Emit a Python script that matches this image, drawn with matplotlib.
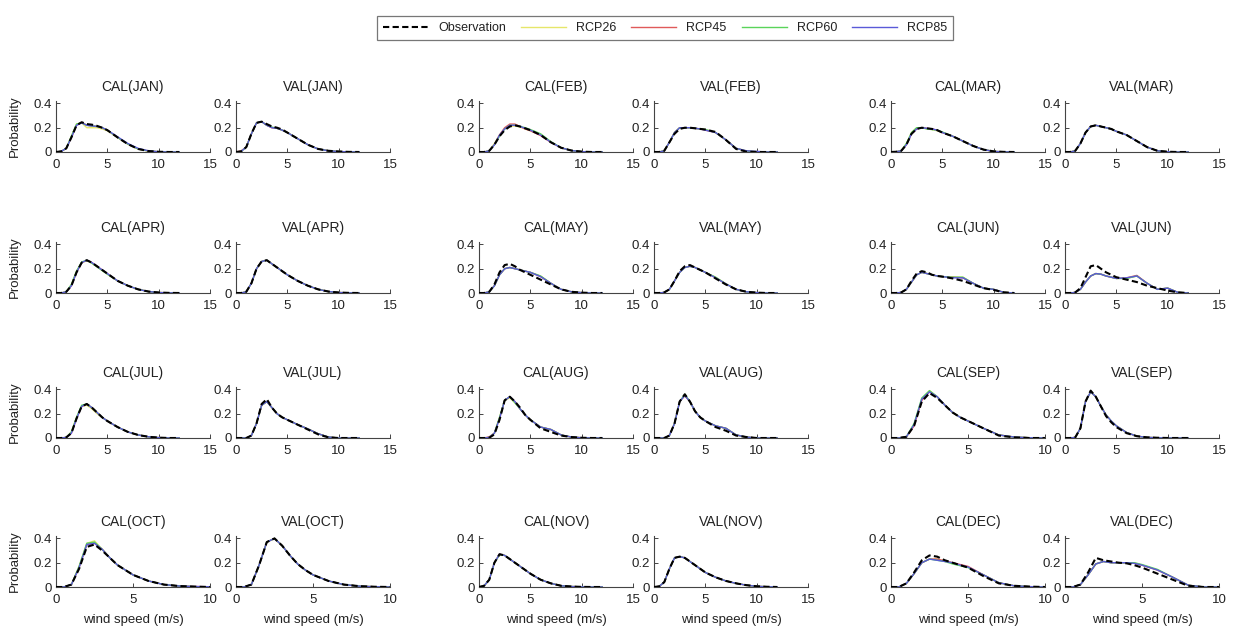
import matplotlib
matplotlib.use("Agg")
import matplotlib.pyplot as plt

plt.rcParams['font.family'] = ['Liberation Sans', 'DejaVu Sans']

months = ["JAN", "FEB", "MAR", "APR", "MAY", "JUN",
          "JUL", "AUG", "SEP", "OCT", "NOV", "DEC"]

# wind speed grid (m/s) the curves were read at
speed = [0, 0.5, 1, 1.5, 2, 2.5, 3, 3.5, 4, 4.5, 5, 6, 7, 8, 9, 10, 11, 12]

# x axis upper limit per panel
xmax_cal = [15, 15, 15, 15, 15, 15, 15, 15, 10, 10, 15, 10]
xmax_val = [15, 15, 15, 15, 15, 15, 15, 15, 15, 10, 15, 10]

cal_obs = {
    "JAN": [0, .005, .03, .12, .22, .245, .23, .225, .215, .2, .18, .12, .065, .025, .008, .002, 0, 0],
    "FEB": [0, 0, .01, .06, .13, .18, .21, .22, .21, .195, .18, .14, .08, .035, .012, .003, 0, 0],
    "MAR": [0, .002, .01, .06, .15, .19, .2, .195, .19, .18, .16, .13, .09, .05, .02, .005, .001, 0],
    "APR": [0, 0, .01, .06, .17, .25, .27, .25, .22, .19, .16, .1, .06, .03, .012, .004, .001, 0],
    "MAY": [0, 0, .01, .07, .17, .23, .24, .22, .19, .17, .15, .11, .07, .03, .01, .003, 0, 0],
    "JUN": [0, 0, .005, .03, .1, .16, .18, .17, .15, .14, .135, .12, .1, .07, .04, .025, .005, 0],
    "JUL": [0, 0, .005, .04, .16, .26, .28, .25, .21, .17, .14, .09, .05, .025, .01, .003, 0, 0],
    "AUG": [0, 0, .002, .03, .15, .31, .34, .3, .25, .19, .15, .08, .05, .02, .008, .002, 0, 0],
    "SEP": [0, 0, .01, .1, .3, .37, .33, .27, .21, .17, .14, .08, .02, .005, 0, 0, 0, 0],
    "OCT": [0, 0, .02, .15, .33, .35, .3, .24, .18, .14, .1, .05, .02, .008, .003, 0, 0, 0],
    "NOV": [0, .01, .06, .2, .27, .26, .23, .2, .17, .14, .11, .06, .03, .01, .004, .001, 0, 0],
    "DEC": [0, 0, .03, .12, .22, .26, .25, .22, .2, .18, .16, .09, .03, .01, .003, 0, 0, 0],
}
cal_rcp26 = {
    "JAN": [0, .005, .03, .13, .23, .24, .2, .2, .2, .19, .175, .12, .065, .025, .008, .002, 0, 0],
    "FEB": [0, 0, .01, .07, .14, .19, .21, .215, .205, .19, .175, .14, .08, .035, .012, .003, 0, 0],
    "MAR": [0, .002, .01, .07, .16, .2, .2, .19, .185, .175, .16, .13, .09, .05, .02, .005, .001, 0],
    "APR": [0, 0, .01, .07, .18, .25, .265, .245, .215, .185, .155, .1, .06, .03, .012, .004, .001, 0],
    "MAY": [0, 0, .01, .06, .15, .2, .21, .2, .19, .18, .17, .14, .08, .03, .01, .003, 0, 0],
    "JUN": [0, 0, .005, .03, .09, .15, .17, .16, .15, .14, .135, .13, .13, .08, .04, .03, .005, 0],
    "JUL": [0, 0, .005, .05, .17, .26, .27, .24, .2, .17, .14, .09, .05, .025, .01, .003, 0, 0],
    "AUG": [0, 0, .005, .04, .17, .31, .33, .29, .24, .19, .15, .09, .07, .025, .008, .002, 0, 0],
    "SEP": [0, 0, .01, .11, .32, .39, .34, .27, .21, .17, .14, .08, .025, .008, .002, 0, 0, 0],
    "OCT": [0, 0, .02, .17, .36, .38, .31, .24, .18, .14, .1, .05, .02, .008, .003, 0, 0, 0],
    "NOV": [0, .01, .06, .2, .265, .26, .23, .2, .17, .14, .11, .06, .03, .01, .004, .001, 0, 0],
    "DEC": [0, 0, .03, .11, .2, .23, .23, .21, .2, .18, .165, .1, .035, .01, .003, 0, 0, 0],
}
cal_rcp45 = {
    "JAN": [0, .005, .03, .12, .22, .245, .22, .215, .21, .2, .18, .12, .065, .025, .008, .002, 0, 0],
    "FEB": [0, 0, .01, .06, .14, .2, .23, .23, .21, .19, .175, .135, .08, .035, .012, .003, 0, 0],
    "MAR": [0, .002, .01, .06, .15, .19, .2, .195, .19, .18, .16, .13, .09, .05, .02, .005, .001, 0],
    "APR": [0, 0, .01, .06, .17, .25, .27, .25, .22, .19, .16, .1, .06, .03, .012, .004, .001, 0],
    "MAY": [0, 0, .01, .06, .15, .2, .21, .2, .19, .18, .17, .135, .08, .03, .01, .003, 0, 0],
    "JUN": [0, 0, .005, .03, .09, .15, .17, .16, .15, .14, .135, .13, .125, .08, .04, .03, .005, 0],
    "JUL": [0, 0, .005, .04, .16, .26, .28, .25, .21, .17, .14, .09, .05, .025, .01, .003, 0, 0],
    "AUG": [0, 0, .01, .04, .16, .31, .34, .3, .24, .19, .15, .09, .07, .025, .008, .002, 0, 0],
    "SEP": [0, 0, .01, .1, .31, .38, .34, .27, .21, .17, .14, .08, .025, .008, .002, 0, 0, 0],
    "OCT": [0, 0, .02, .16, .35, .36, .31, .24, .18, .14, .1, .05, .02, .008, .004, .002, 0, 0],
    "NOV": [0, .01, .06, .2, .27, .26, .23, .2, .17, .14, .11, .06, .03, .01, .004, .001, 0, 0],
    "DEC": [0, 0, .03, .11, .2, .23, .23, .215, .2, .185, .17, .1, .035, .01, .003, 0, 0, 0],
}
cal_rcp60 = {
    "JAN": [0, .005, .03, .13, .23, .24, .22, .215, .21, .2, .18, .12, .065, .025, .008, .002, 0, 0],
    "FEB": [0, 0, .01, .06, .13, .19, .22, .22, .21, .2, .185, .15, .085, .035, .012, .003, 0, 0],
    "MAR": [0, .002, .01, .07, .16, .2, .2, .19, .185, .18, .165, .13, .09, .05, .02, .005, .001, 0],
    "APR": [0, 0, .01, .07, .18, .255, .27, .245, .215, .185, .155, .1, .06, .03, .012, .004, .001, 0],
    "MAY": [0, 0, .01, .06, .15, .2, .21, .2, .19, .18, .17, .14, .08, .03, .01, .003, 0, 0],
    "JUN": [0, 0, .005, .03, .09, .15, .17, .16, .15, .14, .135, .13, .13, .08, .04, .03, .005, 0],
    "JUL": [0, 0, .005, .05, .17, .27, .28, .25, .21, .17, .14, .09, .05, .025, .01, .003, 0, 0],
    "AUG": [0, 0, .005, .04, .17, .31, .34, .29, .24, .19, .15, .09, .07, .025, .008, .002, 0, 0],
    "SEP": [0, 0, .01, .12, .33, .39, .34, .27, .21, .17, .14, .08, .025, .008, .002, 0, 0, 0],
    "OCT": [0, 0, .02, .17, .36, .37, .31, .24, .18, .14, .1, .05, .02, .008, .003, 0, 0, 0],
    "NOV": [0, .01, .06, .2, .265, .26, .23, .2, .17, .14, .11, .06, .03, .01, .004, .001, 0, 0],
    "DEC": [0, 0, .03, .11, .2, .23, .22, .21, .19, .175, .16, .1, .035, .01, .003, 0, 0, 0],
}
cal_rcp85 = {
    "JAN": [0, .005, .03, .12, .22, .24, .22, .215, .21, .2, .18, .125, .07, .03, .01, .002, 0, 0],
    "FEB": [0, 0, .01, .06, .14, .19, .22, .22, .21, .195, .18, .14, .08, .035, .012, .003, 0, 0],
    "MAR": [0, .002, .01, .06, .15, .19, .2, .195, .19, .18, .16, .13, .09, .05, .02, .005, .001, 0],
    "APR": [0, 0, .01, .06, .17, .25, .27, .25, .22, .19, .16, .1, .06, .03, .012, .004, .001, 0],
    "MAY": [0, 0, .01, .06, .15, .2, .21, .2, .19, .18, .17, .135, .08, .03, .01, .003, 0, 0],
    "JUN": [0, 0, .005, .03, .09, .15, .17, .16, .15, .14, .135, .125, .125, .08, .04, .03, .005, 0],
    "JUL": [0, 0, .005, .04, .16, .26, .28, .25, .21, .17, .14, .09, .05, .025, .01, .003, 0, 0],
    "AUG": [0, 0, .005, .04, .16, .31, .34, .3, .24, .19, .15, .09, .07, .025, .008, .002, 0, 0],
    "SEP": [0, 0, .01, .11, .32, .38, .34, .27, .21, .17, .14, .08, .025, .008, .002, 0, 0, 0],
    "OCT": [0, 0, .02, .16, .35, .36, .31, .24, .18, .14, .1, .05, .02, .008, .004, .002, 0, 0],
    "NOV": [0, .01, .06, .2, .27, .26, .23, .2, .17, .14, .11, .06, .03, .01, .004, .001, 0, 0],
    "DEC": [0, 0, .03, .11, .2, .23, .22, .21, .2, .18, .165, .1, .035, .01, .003, 0, 0, 0],
}

val_obs = {
    "JAN": [0, .005, .04, .15, .24, .25, .23, .21, .2, .185, .16, .11, .06, .025, .01, .004, .001, 0],
    "FEB": [0, 0, .01, .08, .15, .19, .2, .2, .195, .19, .185, .165, .1, .025, .003, 0, 0, 0],
    "MAR": [0, 0, .01, .07, .16, .21, .22, .21, .2, .19, .17, .14, .09, .04, .01, .002, 0, 0],
    "APR": [0, 0, .01, .08, .2, .26, .27, .24, .21, .18, .15, .1, .06, .03, .012, .004, .001, 0],
    "MAY": [0, 0, .005, .03, .1, .18, .22, .23, .21, .19, .17, .12, .07, .03, .01, .003, 0, 0],
    "JUN": [0, 0, .005, .04, .13, .22, .23, .2, .17, .15, .13, .11, .09, .06, .04, .02, .005, 0],
    "JUL": [0, 0, 0, .02, .12, .28, .32, .25, .2, .17, .15, .11, .07, .03, .005, 0, 0, 0],
    "AUG": [0, 0, 0, .02, .12, .3, .36, .3, .22, .17, .14, .09, .06, .02, .008, 0, 0, 0],
    "SEP": [0, 0, .005, .08, .3, .39, .34, .26, .18, .13, .09, .04, .015, .005, .002, 0, 0, 0],
    "OCT": [0, 0, .02, .18, .37, .4, .34, .26, .19, .14, .1, .05, .02, .007, .002, 0, 0, 0],
    "NOV": [0, .005, .04, .15, .24, .25, .24, .21, .18, .15, .12, .08, .05, .03, .015, .006, .002, 0],
    "DEC": [0, 0, .02, .12, .24, .22, .21, .2, .195, .18, .16, .11, .06, .01, 0, 0, 0, 0],
}
val_rcp26 = {
    "JAN": [0, .005, .04, .15, .24, .25, .22, .2, .195, .18, .16, .11, .06, .025, .01, .004, .001, 0],
    "FEB": [0, 0, .01, .08, .16, .2, .2, .2, .195, .19, .185, .16, .1, .03, .008, .003, 0, 0],
    "MAR": [0, 0, .01, .07, .16, .21, .22, .21, .2, .19, .17, .14, .09, .04, .01, .002, 0, 0],
    "APR": [0, 0, .01, .08, .2, .26, .27, .24, .21, .18, .15, .1, .06, .03, .012, .004, .001, 0],
    "MAY": [0, 0, .005, .03, .1, .17, .21, .22, .21, .19, .17, .13, .075, .03, .01, .003, 0, 0],
    "JUN": [0, 0, .005, .03, .09, .14, .16, .155, .14, .13, .12, .12, .14, .08, .03, .04, .005, 0],
    "JUL": [0, 0, 0, .02, .12, .27, .3, .25, .2, .17, .15, .11, .075, .035, .008, 0, 0, 0],
    "AUG": [0, 0, 0, .02, .12, .3, .35, .3, .22, .17, .14, .1, .08, .025, .008, 0, 0, 0],
    "SEP": [0, 0, .005, .08, .3, .38, .34, .26, .19, .14, .1, .045, .015, .005, .002, 0, 0, 0],
    "OCT": [0, 0, .02, .18, .37, .4, .34, .26, .19, .14, .1, .05, .02, .007, .002, 0, 0, 0],
    "NOV": [0, .005, .04, .15, .24, .25, .24, .21, .18, .15, .12, .08, .05, .03, .015, .006, .002, 0],
    "DEC": [0, 0, .02, .1, .19, .21, .2, .2, .2, .2, .18, .14, .08, .015, 0, 0, 0, 0],
}
val_rcp45 = {
    "JAN": [0, .01, .04, .15, .24, .25, .22, .2, .195, .18, .16, .11, .06, .025, .01, .004, .001, 0],
    "FEB": [0, 0, .01, .08, .16, .2, .2, .2, .195, .19, .18, .16, .1, .03, .008, .003, 0, 0],
    "MAR": [0, 0, .01, .07, .16, .21, .22, .21, .2, .19, .17, .14, .09, .04, .01, .002, 0, 0],
    "APR": [0, 0, .01, .08, .2, .26, .27, .24, .21, .18, .15, .1, .06, .03, .012, .004, .001, 0],
    "MAY": [0, 0, .005, .03, .1, .17, .21, .22, .21, .19, .17, .125, .075, .03, .01, .003, 0, 0],
    "JUN": [0, 0, .005, .03, .09, .14, .16, .155, .14, .13, .12, .125, .145, .08, .03, .04, .005, 0],
    "JUL": [0, 0, 0, .02, .12, .27, .3, .25, .2, .17, .15, .11, .075, .035, .008, 0, 0, 0],
    "AUG": [0, 0, 0, .02, .12, .3, .35, .3, .22, .17, .14, .1, .08, .025, .008, 0, 0, 0],
    "SEP": [0, 0, .005, .08, .3, .38, .34, .26, .19, .14, .1, .045, .015, .005, .002, 0, 0, 0],
    "OCT": [0, 0, .02, .18, .37, .4, .34, .26, .19, .14, .1, .05, .02, .007, .002, 0, 0, 0],
    "NOV": [0, .005, .04, .15, .24, .25, .24, .21, .18, .15, .12, .08, .05, .03, .015, .006, .002, 0],
    "DEC": [0, 0, .02, .1, .19, .21, .2, .2, .2, .195, .18, .14, .08, .015, 0, 0, 0, 0],
}
val_rcp60 = {
    "JAN": [0, .005, .04, .15, .24, .25, .22, .205, .195, .18, .16, .11, .06, .025, .01, .004, .001, 0],
    "FEB": [0, 0, .01, .08, .16, .2, .2, .2, .195, .19, .185, .16, .1, .03, .008, .003, 0, 0],
    "MAR": [0, 0, .01, .07, .16, .21, .22, .21, .2, .19, .17, .14, .09, .04, .01, .002, 0, 0],
    "APR": [0, 0, .01, .08, .2, .26, .27, .24, .21, .18, .15, .1, .06, .03, .012, .004, .001, 0],
    "MAY": [0, 0, .005, .03, .1, .17, .21, .22, .21, .19, .17, .13, .075, .03, .01, .003, 0, 0],
    "JUN": [0, 0, .005, .03, .09, .14, .16, .155, .14, .13, .12, .12, .14, .08, .03, .04, .005, 0],
    "JUL": [0, 0, 0, .02, .12, .27, .3, .25, .2, .17, .15, .11, .075, .035, .008, 0, 0, 0],
    "AUG": [0, 0, 0, .02, .12, .3, .36, .3, .22, .17, .14, .1, .08, .025, .008, 0, 0, 0],
    "SEP": [0, 0, .005, .08, .3, .38, .34, .26, .19, .14, .1, .045, .015, .005, .002, 0, 0, 0],
    "OCT": [0, 0, .02, .18, .37, .4, .34, .26, .19, .14, .1, .05, .02, .007, .002, 0, 0, 0],
    "NOV": [0, .005, .04, .15, .24, .25, .24, .21, .18, .15, .12, .08, .05, .03, .015, .006, .002, 0],
    "DEC": [0, 0, .02, .1, .19, .21, .2, .2, .2, .2, .185, .145, .08, .015, 0, 0, 0, 0],
}
val_rcp85 = {
    "JAN": [0, .005, .04, .15, .24, .25, .22, .2, .195, .18, .16, .11, .06, .025, .01, .004, .001, 0],
    "FEB": [0, 0, .01, .08, .16, .2, .2, .2, .195, .19, .18, .16, .1, .03, .01, .005, 0, 0],
    "MAR": [0, 0, .01, .07, .16, .21, .22, .21, .2, .19, .17, .14, .09, .04, .01, .002, 0, 0],
    "APR": [0, 0, .01, .08, .2, .26, .27, .24, .21, .18, .15, .1, .06, .03, .012, .004, .001, 0],
    "MAY": [0, 0, .005, .03, .1, .17, .21, .22, .21, .19, .17, .125, .075, .03, .01, .003, 0, 0],
    "JUN": [0, 0, .005, .03, .09, .14, .16, .155, .14, .13, .12, .125, .14, .08, .03, .04, .005, 0],
    "JUL": [0, 0, 0, .02, .12, .27, .3, .25, .2, .17, .15, .11, .075, .035, .008, 0, 0, 0],
    "AUG": [0, 0, 0, .02, .12, .3, .35, .3, .22, .17, .14, .1, .08, .025, .008, 0, 0, 0],
    "SEP": [0, 0, .005, .08, .3, .38, .34, .26, .19, .14, .1, .045, .015, .005, .002, 0, 0, 0],
    "OCT": [0, 0, .02, .18, .37, .4, .34, .26, .19, .14, .1, .05, .02, .007, .002, 0, 0, 0],
    "NOV": [0, .005, .04, .15, .24, .25, .24, .21, .18, .15, .12, .08, .05, .03, .015, .006, .002, 0],
    "DEC": [0, 0, .02, .1, .19, .21, .2, .2, .2, .195, .18, .14, .08, .015, 0, 0, 0, 0],
}

scenario_names = ["RCP26", "RCP45", "RCP60", "RCP85"]
scenario_colors = ["#e6e66a", "#e05a5a", "#5ad45a", "#5a5ad8"]
cal_rcp = [cal_rcp26, cal_rcp45, cal_rcp60, cal_rcp85]
val_rcp = [val_rcp26, val_rcp45, val_rcp60, val_rcp85]

W, H = 1239, 630
fig = plt.figure(figsize=(W / 100, H / 100), dpi=100)

# axes placement in pixels (left edges of the 6 columns, zero-line of the 4 rows)
col_left = [56, 236, 479, 654, 891, 1065]
row_base = [152, 293, 438, 587]
ax_w, ax_h = 154, 51

txt_color = "#222222"
handles = None

for m, month in enumerate(months):
    row = m // 3
    grp = m % 3
    panels = [("CAL", cal_obs, cal_rcp, xmax_cal[m]),
              ("VAL", val_obs, val_rcp, xmax_val[m])]
    for k, (tag, obs, rcps, xmax) in enumerate(panels):
        col = grp * 2 + k
        ax = fig.add_axes([col_left[col] / W, 1 - row_base[row] / H, ax_w / W, ax_h / H])
        lines = []
        for rcp, name, c in zip(rcps, scenario_names, scenario_colors):
            ln, = ax.plot(speed, rcp[month], color=c, lw=1.0, label=name)
            lines.append(ln)
        ob, = ax.plot(speed, obs[month], color="black", lw=1.5, ls=(0, (3, 1.6)),
                      label="Observation", zorder=5)
        if handles is None:
            handles = [ob] + lines

        ax.set_xlim(0, xmax)
        ax.set_ylim(0, 0.42)
        ax.set_xticks([0, 5, 10, 15] if xmax == 15 else [0, 5, 10])
        ax.set_yticks([0, 0.2, 0.4])
        ax.set_yticklabels(["0", "0.2", "0.4"])
        for s in ["top", "right"]:
            ax.spines[s].set_visible(False)
        for s in ["left", "bottom"]:
            ax.spines[s].set_color("#444444")
            ax.spines[s].set_linewidth(0.8)
        ax.tick_params(direction="in", length=3, width=0.7, colors="#444444",
                       labelcolor=txt_color, labelsize=9.5)
        ax.tick_params(axis="x", pad=5)
        ax.tick_params(axis="y", pad=3)
        ax.set_title(f"{tag}({month})", fontsize=10, color=txt_color, pad=7)
        if col == 0:
            ax.set_ylabel("Probability", fontsize=9.5, color=txt_color, labelpad=9)
        if row == 3:
            ax.set_xlabel("wind speed (m/s)", fontsize=9.5, color=txt_color, labelpad=6)

leg = fig.legend(handles, ["Observation"] + scenario_names, loc="center",
                 bbox_to_anchor=(665 / W, 1 - 28 / H), ncol=5, fontsize=9,
                 frameon=True, fancybox=False, handlelength=3.6,
                 handletextpad=0.8, columnspacing=1.2, borderpad=0.5)
leg.get_frame().set_edgecolor("#555555")
leg.get_frame().set_linewidth(0.9)
for t in leg.get_texts():
    t.set_color(txt_color)

fig.savefig("out.png", dpi=100)
